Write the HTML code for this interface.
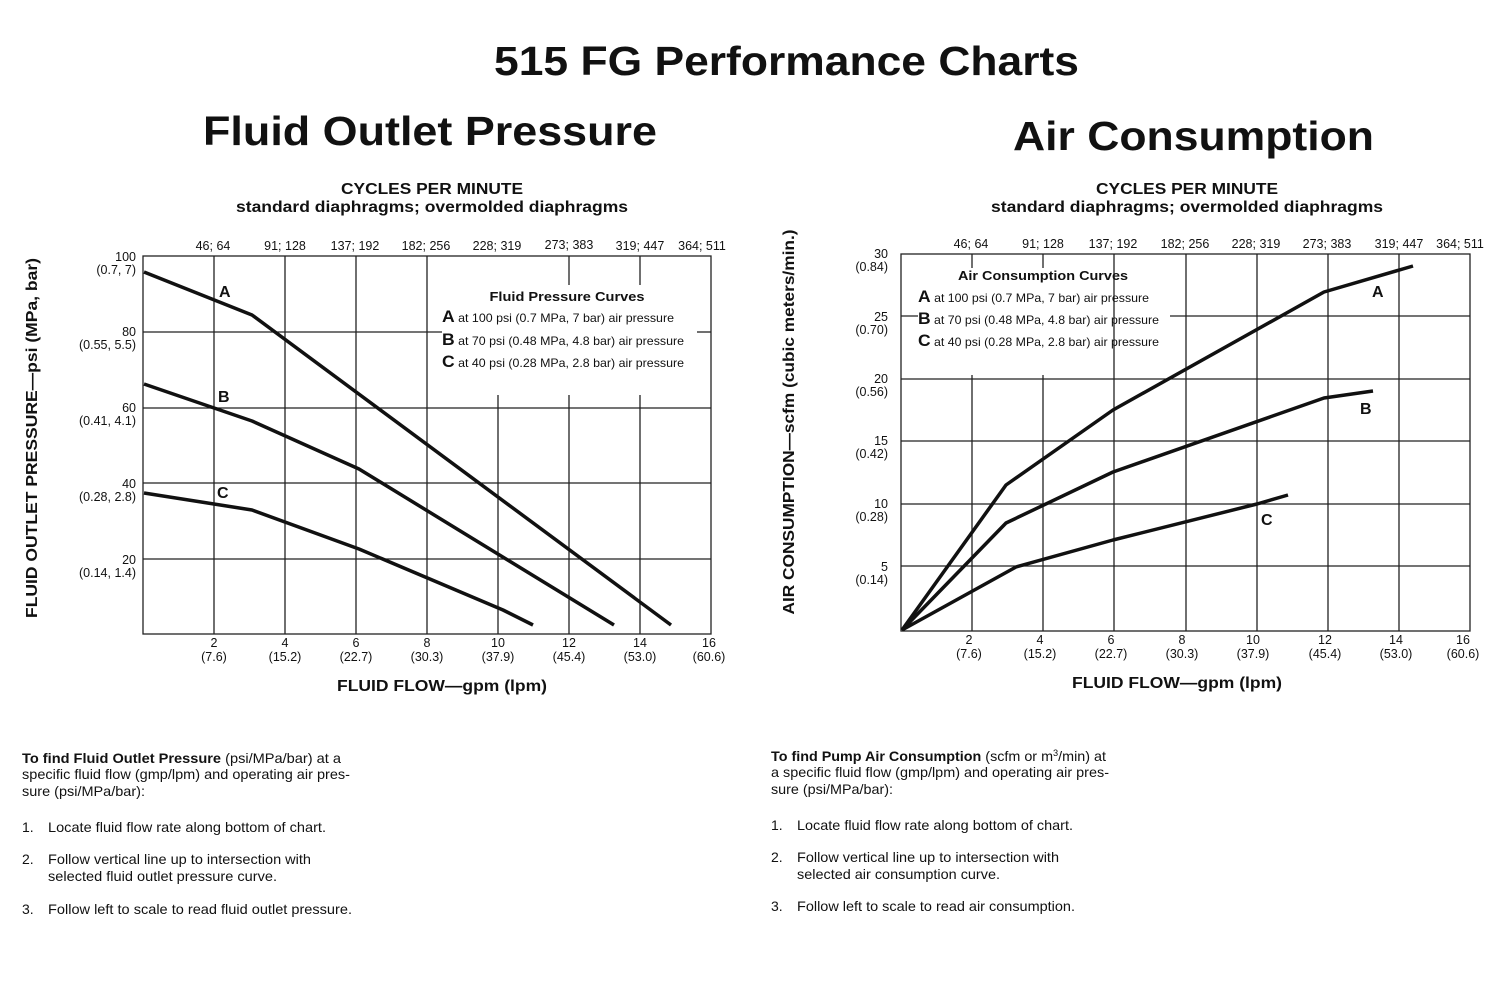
<!DOCTYPE html>
<html><head><meta charset="utf-8"><style>
html,body{margin:0;padding:0;background:#fff;}
svg{display:block;}
text{font-family:"Liberation Sans",sans-serif;fill:#111;}
.h{font-weight:bold;}
.t{font-size:12.5px;}
.n{font-size:14px;}
</style></head><body>
<svg width="1500" height="1000" viewBox="0 0 1500 1000" xmlns="http://www.w3.org/2000/svg">
<rect width="1500" height="1000" fill="#fff"/>
<text x="494" y="75" class="h" font-size="41" textLength="585" lengthAdjust="spacingAndGlyphs">515 FG Performance Charts</text>
<text x="203" y="145" class="h" font-size="41" textLength="454" lengthAdjust="spacingAndGlyphs">Fluid Outlet Pressure</text>
<text x="1013" y="150" class="h" font-size="41" textLength="361" lengthAdjust="spacingAndGlyphs">Air Consumption</text>

<!-- LEFT CHART -->
<g>
<text x="432" y="194" class="h" font-size="16" text-anchor="middle" textLength="182" lengthAdjust="spacingAndGlyphs">CYCLES PER MINUTE</text>
<text x="432" y="212" class="h" font-size="16" text-anchor="middle" textLength="392" lengthAdjust="spacingAndGlyphs">standard diaphragms; overmolded diaphragms</text>
<g stroke="#222" stroke-width="1.3" fill="none">
<rect x="143" y="256" width="568" height="378"/>
<line x1="143" y1="332" x2="442" y2="332"/><line x1="697" y1="332" x2="711" y2="332"/>
<line x1="143" y1="408" x2="711" y2="408"/>
<line x1="143" y1="483" x2="711" y2="483"/>
<line x1="143" y1="559" x2="711" y2="559"/>
<line x1="214" y1="256" x2="214" y2="634"/>
<line x1="285" y1="256" x2="285" y2="634"/>
<line x1="356" y1="256" x2="356" y2="634"/>
<line x1="427" y1="256" x2="427" y2="634"/>
<line x1="498" y1="395" x2="498" y2="634"/>
<line x1="569" y1="256" x2="569" y2="285"/><line x1="569" y1="395" x2="569" y2="634"/>
<line x1="640" y1="256" x2="640" y2="285"/><line x1="640" y1="395" x2="640" y2="634"/>
</g>
<g stroke="#111" stroke-width="3.5" fill="none" stroke-linejoin="round">
<polyline points="144,272 252,315 671,625"/>
<polyline points="144,384 252,421 359,469 614,625"/>
<polyline points="144,493 252,510 359,549 503,610 533,625"/>
</g>
<text x="219" y="297" class="h" font-size="16">A</text>
<text x="218" y="402" class="h" font-size="16">B</text>
<text x="217" y="498" class="h" font-size="16">C</text>
<text x="567" y="301" class="h" font-size="13" text-anchor="middle" textLength="155" lengthAdjust="spacingAndGlyphs">Fluid Pressure Curves</text>
<text x="442" y="322" font-size="12" textLength="232" lengthAdjust="spacingAndGlyphs"><tspan class="h" font-size="17">A</tspan> at 100 psi (0.7 MPa, 7 bar) air pressure</text>
<text x="442" y="345" font-size="12" textLength="242" lengthAdjust="spacingAndGlyphs"><tspan class="h" font-size="17">B</tspan> at 70 psi (0.48 MPa, 4.8 bar) air pressure</text>
<text x="442" y="367" font-size="12" textLength="242" lengthAdjust="spacingAndGlyphs"><tspan class="h" font-size="17">C</tspan> at 40 psi (0.28 MPa, 2.8 bar) air pressure</text>
<g class="t" text-anchor="middle">
<text x="213" y="250">46; 64</text><text x="285" y="250">91; 128</text><text x="355" y="250">137; 192</text><text x="426" y="250">182; 256</text><text x="497" y="250">228; 319</text><text x="569" y="249">273; 383</text><text x="640" y="250">319; 447</text><text x="702" y="250">364; 511</text>
<text x="214" y="647">2</text><text x="214" y="661">(7.6)</text>
<text x="285" y="647">4</text><text x="285" y="661">(15.2)</text>
<text x="356" y="647">6</text><text x="356" y="661">(22.7)</text>
<text x="427" y="647">8</text><text x="427" y="661">(30.3)</text>
<text x="498" y="647">10</text><text x="498" y="661">(37.9)</text>
<text x="569" y="647">12</text><text x="569" y="661">(45.4)</text>
<text x="640" y="647">14</text><text x="640" y="661">(53.0)</text>
<text x="709" y="647">16</text><text x="709" y="661">(60.6)</text>
</g>
<g class="t" text-anchor="end">
<text x="136" y="261">100</text><text x="136" y="274">(0.7, 7)</text>
<text x="136" y="336">80</text><text x="136" y="349">(0.55, 5.5)</text>
<text x="136" y="412">60</text><text x="136" y="425">(0.41, 4.1)</text>
<text x="136" y="488">40</text><text x="136" y="501">(0.28, 2.8)</text>
<text x="136" y="564">20</text><text x="136" y="577">(0.14, 1.4)</text>
</g>
<text x="442" y="691" class="h" font-size="16" text-anchor="middle" textLength="210" lengthAdjust="spacingAndGlyphs">FLUID FLOW—gpm (lpm)</text>
<text transform="translate(37,438) rotate(-90)" class="h" font-size="16" text-anchor="middle" textLength="360" lengthAdjust="spacingAndGlyphs">FLUID OUTLET PRESSURE—psi (MPa, bar)</text>
</g>

<!-- RIGHT CHART -->
<g>
<text x="1187" y="194" class="h" font-size="16" text-anchor="middle" textLength="182" lengthAdjust="spacingAndGlyphs">CYCLES PER MINUTE</text>
<text x="1187" y="212" class="h" font-size="16" text-anchor="middle" textLength="392" lengthAdjust="spacingAndGlyphs">standard diaphragms; overmolded diaphragms</text>
<g stroke="#222" stroke-width="1.3" fill="none">
<rect x="901" y="254" width="569" height="377"/>
<line x1="901" y1="316" x2="918" y2="316"/><line x1="1170" y1="316" x2="1470" y2="316"/>
<line x1="901" y1="379" x2="1470" y2="379"/>
<line x1="901" y1="441" x2="1470" y2="441"/>
<line x1="901" y1="504" x2="1470" y2="504"/>
<line x1="901" y1="566" x2="1470" y2="566"/>
<line x1="972" y1="254" x2="972" y2="268"/><line x1="972" y1="375" x2="972" y2="631"/>
<line x1="1043" y1="254" x2="1043" y2="268"/><line x1="1043" y1="375" x2="1043" y2="631"/>
<line x1="1114" y1="254" x2="1114" y2="631"/>
<line x1="1186" y1="254" x2="1186" y2="631"/>
<line x1="1257" y1="254" x2="1257" y2="631"/>
<line x1="1328" y1="254" x2="1328" y2="631"/>
<line x1="1399" y1="254" x2="1399" y2="631"/>
</g>
<g stroke="#111" stroke-width="3.5" fill="none" stroke-linejoin="round">
<polyline points="902,630 1006,485 1113,410 1324,292 1413,266"/>
<polyline points="902,630 1006,523 1113,472 1324,398 1373,391"/>
<polyline points="902,630 1016,567 1113,540 1257,504 1288,495"/>
</g>
<text x="1372" y="297" class="h" font-size="16">A</text>
<text x="1360" y="414" class="h" font-size="16">B</text>
<text x="1261" y="525" class="h" font-size="16">C</text>
<text x="1043" y="280" class="h" font-size="13" text-anchor="middle" textLength="170" lengthAdjust="spacingAndGlyphs">Air Consumption Curves</text>
<text x="918" y="302" font-size="12" textLength="231" lengthAdjust="spacingAndGlyphs"><tspan class="h" font-size="17">A</tspan> at 100 psi (0.7 MPa, 7 bar) air pressure</text>
<text x="918" y="324" font-size="12" textLength="241" lengthAdjust="spacingAndGlyphs"><tspan class="h" font-size="17">B</tspan> at 70 psi (0.48 MPa, 4.8 bar) air pressure</text>
<text x="918" y="346" font-size="12" textLength="241" lengthAdjust="spacingAndGlyphs"><tspan class="h" font-size="17">C</tspan> at 40 psi (0.28 MPa, 2.8 bar) air pressure</text>
<g class="t" text-anchor="middle">
<text x="971" y="248">46; 64</text><text x="1043" y="248">91; 128</text><text x="1113" y="248">137; 192</text><text x="1185" y="248">182; 256</text><text x="1256" y="248">228; 319</text><text x="1327" y="248">273; 383</text><text x="1399" y="248">319; 447</text><text x="1460" y="248">364; 511</text>
<text x="969" y="644">2</text><text x="969" y="658">(7.6)</text>
<text x="1040" y="644">4</text><text x="1040" y="658">(15.2)</text>
<text x="1111" y="644">6</text><text x="1111" y="658">(22.7)</text>
<text x="1182" y="644">8</text><text x="1182" y="658">(30.3)</text>
<text x="1253" y="644">10</text><text x="1253" y="658">(37.9)</text>
<text x="1325" y="644">12</text><text x="1325" y="658">(45.4)</text>
<text x="1396" y="644">14</text><text x="1396" y="658">(53.0)</text>
<text x="1463" y="644">16</text><text x="1463" y="658">(60.6)</text>
</g>
<g class="t" text-anchor="end">
<text x="888" y="258">30</text><text x="888" y="271">(0.84)</text>
<text x="888" y="321">25</text><text x="888" y="334">(0.70)</text>
<text x="888" y="383">20</text><text x="888" y="396">(0.56)</text>
<text x="888" y="445">15</text><text x="888" y="458">(0.42)</text>
<text x="888" y="508">10</text><text x="888" y="521">(0.28)</text>
<text x="888" y="571">5</text><text x="888" y="584">(0.14)</text>
</g>
<text x="1177" y="688" class="h" font-size="16" text-anchor="middle" textLength="210" lengthAdjust="spacingAndGlyphs">FLUID FLOW—gpm (lpm)</text>
<text transform="translate(794,422) rotate(-90)" class="h" font-size="16" text-anchor="middle" textLength="385" lengthAdjust="spacingAndGlyphs">AIR CONSUMPTION—scfm (cubic meters/min.)</text>
</g>

<!-- TEXT BLOCKS -->
<g class="n">
<text x="22" y="763" textLength="319" lengthAdjust="spacingAndGlyphs"><tspan font-weight="bold">To find Fluid Outlet Pressure</tspan> (psi/MPa/bar) at a</text>
<text x="22" y="779" textLength="328" lengthAdjust="spacingAndGlyphs">specific fluid flow (gmp/lpm) and operating air pres-</text>
<text x="22" y="796" textLength="123" lengthAdjust="spacingAndGlyphs">sure (psi/MPa/bar):</text>
<text x="22" y="832">1.</text><text x="48" y="832" textLength="278" lengthAdjust="spacingAndGlyphs">Locate fluid flow rate along bottom of chart.</text>
<text x="22" y="864">2.</text><text x="48" y="864" textLength="263" lengthAdjust="spacingAndGlyphs">Follow vertical line up to intersection with</text>
<text x="48" y="881" textLength="229" lengthAdjust="spacingAndGlyphs">selected fluid outlet pressure curve.</text>
<text x="22" y="914">3.</text><text x="48" y="914" textLength="304" lengthAdjust="spacingAndGlyphs">Follow left to scale to read fluid outlet pressure.</text>

<text x="771" y="761" textLength="335" lengthAdjust="spacingAndGlyphs"><tspan font-weight="bold">To find Pump Air Consumption</tspan> (scfm or m<tspan font-size="9" dy="-5">3</tspan><tspan dy="5">/min) at</tspan></text>
<text x="771" y="777" textLength="338" lengthAdjust="spacingAndGlyphs">a specific fluid flow (gmp/lpm) and operating air pres-</text>
<text x="771" y="794" textLength="122" lengthAdjust="spacingAndGlyphs">sure (psi/MPa/bar):</text>
<text x="771" y="830">1.</text><text x="797" y="830" textLength="276" lengthAdjust="spacingAndGlyphs">Locate fluid flow rate along bottom of chart.</text>
<text x="771" y="862">2.</text><text x="797" y="862" textLength="262" lengthAdjust="spacingAndGlyphs">Follow vertical line up to intersection with</text>
<text x="797" y="879" textLength="203" lengthAdjust="spacingAndGlyphs">selected air consumption curve.</text>
<text x="771" y="911">3.</text><text x="797" y="911" textLength="278" lengthAdjust="spacingAndGlyphs">Follow left to scale to read air consumption.</text>
</g>
</svg>
</body></html>
